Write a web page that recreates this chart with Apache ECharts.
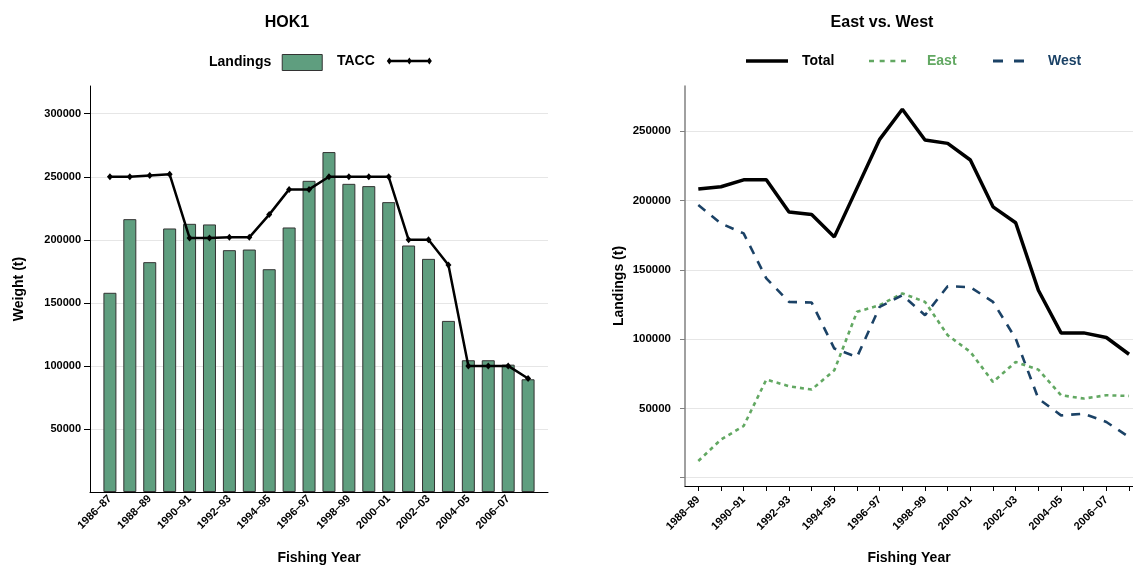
<!DOCTYPE html>
<html><head><meta charset="utf-8">
<script src="https://cdn.jsdelivr.net/npm/echarts@6/dist/echarts.min.js"></script>
<style>html,body{margin:0;padding:0;background:#fff}#c{width:1133px;height:566px}</style>
</head><body><div id="c"></div>
<script>
// ---- data ----
const hokYears = ['1986–87','1987–88','1988–89','1989–90','1990–91','1991–92','1992–93','1993–94','1994–95','1995–96','1996–97','1997–98','1998–99','1999–00','2000–01','2001–02','2002–03','2003–04','2004–05','2005–06','2006–07','2007–08'];
const landings = [158000,216400,182300,209000,212700,212200,191800,192300,176700,209800,246800,269600,244400,242600,229900,195500,184900,135700,104500,104500,101000,89400];
const tacc = [250000,250000,251000,252000,201500,201500,202000,202000,220000,240000,240000,250000,250000,250000,250000,200000,200000,180000,100000,100000,100000,90000];

const ewYears = ['1988–89','1989–90','1990–91','1991–92','1992–93','1993–94','1994–95','1995–96','1996–97','1997–98','1998–99','1999–00','2000–01','2001–02','2002–03','2003–04','2004–05','2005–06','2006–07','2007–08'];
const ewTotal = [208300,210000,215000,215000,191700,190000,173800,209000,244200,265900,243700,241300,229300,195500,184000,135300,104500,104500,101200,89100];
const ewEast = [12000,27500,37300,70800,66000,63600,77500,119700,124500,133000,126900,102800,90800,69100,83500,78000,59500,57100,59500,59000];
const ewWest = [196800,183500,176300,143800,126900,126400,93200,87100,123300,131700,117300,138200,137500,126900,100400,57100,45000,46200,40200,29300];

// ---- helpers ----
const FONT = 'Liberation Sans';
const pairs = arr => arr.map((v, i) => [i + 1, v]);
const positions = n => Array.from({length: n}, (_, i) => i + 1);
const oddPositions = n => positions(n).filter(v => v % 2 === 1);
const BAR = '#5f9e7f', EAST = '#62a862', WEST = '#1b4266';
const txt = (size, color) => ({fontFamily: FONT, fontWeight: 'bold', fontSize: size, color: color || '#000'});

// legend icon shapes
const ICON_TACC = 'path://M0,3.5L2.5,0L5,3.5L2.5,7Z M20,3.5L22.5,0L25,3.5L22.5,7Z M40,3.5L42.5,0L45,3.5L42.5,7Z M2.5,2.25L42.5,2.25L42.5,4.75L2.5,4.75Z';
const ICON_TOTAL = 'path://M0,0H42V3.6H0Z';
const ICON_EAST = 'path://M0,0H5V2.6H0Z M10.67,0H15.67V2.6H10.67Z M21.33,0H26.33V2.6H21.33Z M32,0H37V2.6H32Z';
const ICON_WEST = 'path://M0,0H10V3H0Z M21,0H31V3H21Z';

const legendBase = {top: 54, padding: 0, itemHeight: 16, textStyle: txt(14)};

const chart = echarts.init(document.getElementById('c'), null, {renderer: 'canvas'});
chart.setOption({
  animation: false,
  backgroundColor: '#fff',
  title: [
    {text: 'HOK1', left: 287, textAlign: 'center', top: 15, padding: 0, textStyle: txt(16)},
    {text: 'East vs. West', left: 882, textAlign: 'center', top: 15, padding: 0, textStyle: txt(16)}
  ],
  legend: [
    Object.assign({}, legendBase, {left: 209, itemWidth: 40, align: 'right',
      textStyle: Object.assign(txt(14), {padding: [0, 6, 0, 0]}),
      data: [{name: 'Landings', icon: 'rect', itemStyle: {color: BAR, borderColor: '#333', borderWidth: 1}}]}),
    Object.assign({}, legendBase, {left: 337, itemWidth: 45, align: 'right',
      textStyle: Object.assign(txt(14), {padding: [0, 7, 0, 0]}),
      data: [{name: 'TACC', icon: ICON_TACC, itemStyle: {color: '#000', borderWidth: 0}}]}),
    Object.assign({}, legendBase, {left: 746, itemWidth: 42, align: 'left',
      textStyle: Object.assign(txt(14), {padding: [0, 0, 0, 9]}),
      data: [{name: 'Total', icon: ICON_TOTAL, itemStyle: {color: '#000', borderWidth: 0}}]}),
    Object.assign({}, legendBase, {left: 869, itemWidth: 37, align: 'left',
      textStyle: Object.assign(txt(14, EAST), {padding: [0, 0, 0, 16]}),
      data: [{name: 'East', icon: ICON_EAST, itemStyle: {color: EAST, borderWidth: 0}}]}),
    Object.assign({}, legendBase, {left: 993, itemWidth: 31, align: 'left',
      textStyle: Object.assign(txt(14, WEST), {padding: [0, 0, 0, 19]}),
      data: [{name: 'West', icon: ICON_WEST, itemStyle: {color: WEST, borderWidth: 0}}]})
  ],
  grid: [
    {left: 90, right: 585, top: 86, bottom: 74, containLabel: false, outerBoundsMode: 'none'},
    {left: 685, right: 0, top: 86, bottom: 80, containLabel: false, outerBoundsMode: 'none'}
  ],
  xAxis: [
    {
      type: 'value', gridIndex: 0, min: 0, max: 23,
      axisLine: {show: true, onZero: false, lineStyle: {color: '#000', width: 1}},
      axisTick: {show: false},
      splitLine: {show: false},
      axisLabel: {customValues: oddPositions(hokYears.length), formatter: v => hokYears[v - 1] || '', rotate: 45, margin: 5, ...txt(11)},
      name: 'Fishing Year', nameLocation: 'middle', nameGap: 59, nameTextStyle: txt(14)
    },
    {
      type: 'value', gridIndex: 1, min: 0.413, max: 20.175,
      axisLine: {show: true, onZero: false, lineStyle: {color: '#000', width: 1.2}},
      axisTick: {show: true, customValues: positions(ewYears.length), length: 5, lineStyle: {color: '#000', width: 1}},
      splitLine: {show: false},
      axisLabel: {customValues: oddPositions(ewYears.length), formatter: v => ewYears[v - 1] || '', rotate: 45, margin: 12, ...txt(11)},
      name: 'Fishing Year', nameLocation: 'middle', nameGap: 65, nameTextStyle: txt(14)
    }
  ],
  yAxis: [
    {
      type: 'value', gridIndex: 0, min: 0, max: 322000,
      axisLine: {show: true, lineStyle: {color: '#000', width: 1}},
      axisTick: {show: true, length: 6, lineStyle: {color: '#000'}},
      axisLabel: {showMinLabel: false, showMaxLabel: false, formatter: v => String(v), margin: 9, ...txt(11)},
      splitLine: {show: true, showMinLine: false, showMaxLine: false, lineStyle: {color: '#e6e6e6', width: 1}},
      name: 'Weight (t)', nameLocation: 'middle', nameGap: 64, nameTextStyle: txt(14)
    },
    {
      type: 'value', gridIndex: 1, min: -6000, max: 282700,
      axisLine: {show: true, lineStyle: {color: '#808080', width: 1.5}},
      axisTick: {show: true, length: 5, lineStyle: {color: '#808080'}},
      axisLabel: {showMinLabel: false, showMaxLabel: false, formatter: v => (v === 0 ? '' : String(v)), margin: 14, ...txt(11.5)},
      splitLine: {show: true, showMinLine: false, showMaxLine: false, lineStyle: {color: '#e6e6e6', width: 1}},
      name: 'Landings (t)', nameLocation: 'middle', nameGap: 59, nameTextStyle: txt(14)
    }
  ],
  series: [
    {
      name: 'Landings', type: 'bar', xAxisIndex: 0, yAxisIndex: 0, data: pairs(landings), barWidth: 13,
      itemStyle: {color: BAR, borderColor: '#333', borderWidth: 1}
    },
    {
      name: 'TACC', type: 'line', xAxisIndex: 0, yAxisIndex: 0, data: pairs(tacc),
      symbol: 'diamond', symbolSize: [6, 7], showSymbol: true,
      lineStyle: {color: '#000', width: 2.5}, itemStyle: {color: '#000'}
    },
    {
      name: 'Total', type: 'line', xAxisIndex: 1, yAxisIndex: 1, data: pairs(ewTotal), symbol: 'none',
      lineStyle: {color: '#000', width: 3.5}, itemStyle: {color: '#000'}
    },
    {
      name: 'East', type: 'line', xAxisIndex: 1, yAxisIndex: 1, data: pairs(ewEast), symbol: 'none',
      lineStyle: {color: EAST, width: 2.6, type: [4, 4]}, itemStyle: {color: EAST}
    },
    {
      name: 'West', type: 'line', xAxisIndex: 1, yAxisIndex: 1, data: pairs(ewWest), symbol: 'none',
      lineStyle: {color: WEST, width: 2.6, type: [9, 8]}, itemStyle: {color: WEST}
    }
  ]
});
</script></body></html>
